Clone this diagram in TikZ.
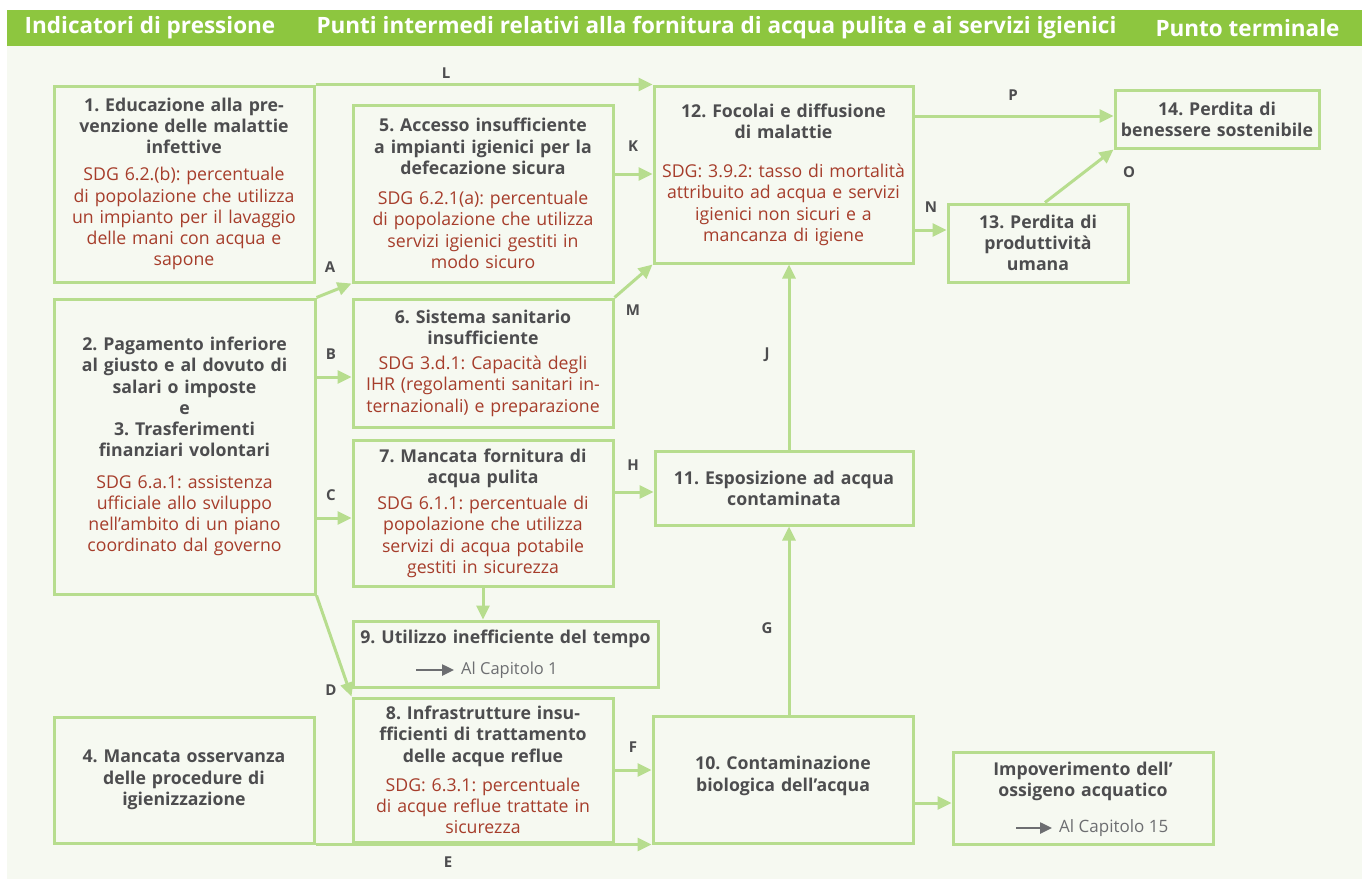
\documentclass[tikz,border=0pt]{standalone}
\usepackage{fontspec}
\setmainfont{Open Sans}
\frenchspacing
\usetikzlibrary{arrows.meta,calc,positioning}
\definecolor{band}{HTML}{8DC63F}
\definecolor{paper}{HTML}{F6F9F1}
\definecolor{edge}{HTML}{B7DD8E}
\definecolor{ink}{HTML}{4D4D4F}
\definecolor{sdg}{HTML}{A63D2B}
\definecolor{chap}{HTML}{6D6E71}
\newcommand{\sdgtext}{\mdseries\color{sdg}}
\tikzset{
  box/.style 2 args = {draw=edge, line width=3pt, fill=paper, align=center, inner sep=0pt,
                  minimum width=#1, text width=#1, minimum height=#2,
                  text=ink, font=\fontsize{17.7}{21.25}\selectfont\bfseries},
  link/.style  = {draw=edge, line width=3pt, -{Triangle[length=14pt,width=13pt]}},
  ref/.style   = {draw=chap, line width=2.5pt, -{Triangle[length=12pt,width=11pt]}},
  lab/.style   = {text=ink, font=\fontsize{15}{18}\selectfont\bfseries},
  head/.style  = {text=white, font=\fontsize{22.5}{26}\selectfont\bfseries},
  chapter/.style = {text=chap, anchor=west, inner sep=0pt},
}

\begin{document}
\begin{tikzpicture}[x=1pt,y=-1pt]
  \useasboundingbox (0,0) rectangle (1368,879);
  % background and header
  \fill[paper] (7,10) rectangle (1362,879);
  \fill[band] (7,10) rectangle (1362,46);
  \node[head] (h1) at (150,28) {Indicatori di pressione};
  \node[head] (h2) at (716.5,28) {Punti intermedi relativi alla fornitura di acqua pulita e ai servizi igienici};
  \node[head] (h3) at (1247.5,28) {Punto terminale};

  % pressure indicators
  \node[box={260pt}{196pt}] (b1) at (184,184)
    {1. Educazione alla pre-\\venzione delle malattie\\infettive\\[6pt]\sdgtext SDG 6.2.(b): percentuale\\di popolazione che utilizza\\un impianto per il lavaggio\\delle mani con acqua e\\sapone};
  \node[box={261pt}{295pt}] (b2) at (184.5,446.5)
    {2. Pagamento inferiore\\al giusto e al dovuto di\\salari o imposte\\e\\3. Trasferimenti\\finanziari volontari\\[10pt]\sdgtext SDG 6.a.1: assistenza\\ufficiale allo sviluppo\\nell’ambito di un piano\\coordinato dal governo};
  \node[box={260pt}{126pt}] (b4) at (184,780)
    {4. Mancata osservanza\\delle procedure di\\igienizzazione};

  % intermediate points
  \node[box={260pt}{177pt}] (b5) at (483,193.5)
    {5. Accesso insufficiente\\a impianti igienici per la\\defecazione sicura\\[9pt]\sdgtext SDG 6.2.1(a): percentuale\\di popolazione che utilizza\\servizi igienici gestiti in\\modo sicuro};
  \node[box={260pt}{128pt}] (b6) at (483,363)
    {6. Sistema sanitario\\insufficiente\\[4pt]\sdgtext SDG 3.d.1: Capacità degli\\IHR (regolamenti sanitari in-\\ternazionali) e preparazione};
  \node[box={260pt}{146pt}] (b7) at (483,513)
    {7. Mancata fornitura di\\acqua pulita\\[5pt]\sdgtext SDG 6.1.1: percentuale di\\popolazione che utilizza\\servizi di acqua potabile\\gestiti in sicurezza};
  \node[box={305pt}{66pt}] (b9) at (505.5,654)
    {9. Utilizzo inefficiente del tempo\\[7pt]\strut};
  \node[chapter, font=\fontsize{16.5}{20}\selectfont] (c9) at (461,670) {Al Capitolo 1};
  \node[box={260pt}{144pt}] (b8) at (483,770)
    {8. Infrastrutture insu-\\fficienti di trattamento\\delle acque reflue\\[8pt]\sdgtext SDG: 6.3.1: percentuale\\di acque reflue trattate in\\sicurezza};
  \node[box={259pt}{177pt}] (b12) at (783.5,174.5)
    {12. Focolai e diffusione\\di malattie\\[18pt]\sdgtext SDG: 3.9.2: tasso di mortalità\\attribuito ad acqua e servizi\\igienici non sicuri e a\\mancanza di igiene};
  \node[box={258pt}{74pt}] (b11) at (784,488)
    {11. Esposizione ad acqua\\contaminata};
  \node[box={260pt}{127pt}] (b10) at (783,779.5)
    {10. Contaminazione\\biologica dell’acqua\\[-10pt]\mbox{}};
  \node[box={260pt}{92pt}] (b15) at (1083,798)
    {Impoverimento dell’\\ossigeno acquatico\\[10pt]\strut};
  \node[chapter, font=\fontsize{17}{20}\selectfont] (c15) at (1059,828) {Al Capitolo 15};

  % end point
  \node[box={180pt}{78pt}] (b13) at (1038,243)
    {13. Perdita di\\produttività\\umana};
  \node[box={204pt}{58pt}] (b14) at (1217,119)
    {14. Perdita di\\benessere sostenibile};

  % chapter arrows
  \draw[ref] ([xshift=-45pt]c9.west) -- ([xshift=-7pt]c9.west);
  \draw[ref] ([xshift=-43pt]c15.west) -- ([xshift=-7pt]c15.west);

  % links
  \draw[link] (b1.north east) -- (b12.north west);
  \draw[link] (b2.north east) -- (b5.south west);
  \draw[link] (b2.east |- 0,377) -- (b6.west |- 0,377);
  \draw[link] (b2.east |- 0,518) -- (b7.west |- 0,518);
  \draw[link] (b2.south east) -- (b8.north west);
  \draw[link] (b4.south east) -- (b10.south west);
  \draw[link] (b8.east) -- (b10.west |- b8.east);
  \draw[link] (789,0 |- b10.north) -- (789,0 |- b11.south);
  \draw[link] (b7.east |- 0,492) -- (b11.west |- 0,492);
  \draw[link] (789,0 |- b11.north) -- (789,0 |- b12.south);
  \draw[link] (b7.south) -- (b7.south |- b9.north);
  \draw[link] (b5.east |- 0,174) -- (b12.west |- 0,174);
  \draw[link] (b6.north east) -- (b12.south west);
  \draw[link] (b12.east |- 0,116) -- (b14.west |- 0,116);
  \draw[link] (b12.east |- 0,230) -- (b13.west |- 0,230);
  \draw[link] (1045,0 |- b13.north) -- (b14.south west);
  \draw[link] (b10.east |- 0,803) -- (b15.west |- 0,803);

  % link letters
  \foreach \n/\p in {L/{446,73}, P/{1013,95}, K/{633,146}, N/{931,207}, O/{1129,172},
                     A/{330,267}, M/{633,310}, B/{331,354}, J/{767,355}, C/{331,495},
                     H/{633,465}, G/{767,628}, D/{331,690}, F/{633,747}, E/{448,862}}
    {\node[lab] (lab\n) at (\p) {\n};}
\end{tikzpicture}
\end{document}
